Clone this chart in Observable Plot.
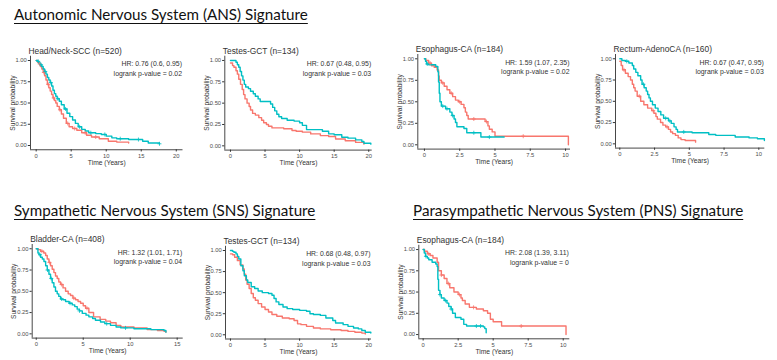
<!DOCTYPE html>
<html>
<head>
<meta charset="utf-8">
<script src="https://cdn.jsdelivr.net/npm/d3@7"></script>
<script src="https://cdn.jsdelivr.net/npm/@observablehq/plot@0.6"></script>
<style>
  html, body { margin: 0; padding: 0; background: #fff; }
  #root { position: relative; width: 777px; height: 360px; overflow: hidden; background: #fff; }
  .sec { position: absolute; font-family: Lato, "Open Sans", sans-serif; font-size: 15.2px; line-height: 1; color: #111;
         text-decoration: underline; text-decoration-thickness: 1px; text-underline-offset: 3px; white-space: nowrap; }
  .panel { position: absolute; }
</style>
</head>
<body>
<div id="root"></div>
<script>
// ---------------- Section titles ----------------
const sectionTitles = [
  "Autonomic Nervous System (ANS) Signature",
  "Sympathetic Nervous System (SNS) Signature",
  "Parasympathetic Nervous System (PNS) Signature"
];

// ---------------- Panel labels ----------------
const panelTitles = [
  "Head/Neck-SCC (n=520)", "Testes-GCT (n=134)", "Esophagus-CA (n=184)", "Rectum-AdenoCA (n=160)",
  "Bladder-CA (n=408)", "Testes-GCT (n=134)", "Esophagus-CA (n=184)"
];
const hrLabels = [
  "HR: 0.76 (0.6, 0.95)", "HR: 0.67 (0.48, 0.95)", "HR: 1.59 (1.07, 2.35)", "HR: 0.67 (0.47, 0.95)",
  "HR: 1.32 (1.01, 1.71)", "HR: 0.68 (0.48, 0.97)", "HR: 2.08 (1.39, 3.11)"
];
const pValues = ["0.02", "0.03", "0.02", "0.03", "0.04", "0.03", "0"];

const yTicks = [0, 0.25, 0.5, 0.75, 1];
const xTicks20 = [0, 5, 10, 15, 20];
const xTicks15 = [0, 5, 10, 15];
const xTicks10 = [0, 2.5, 5, 7.5, 10];

// ---------------- KM curves: [time (years), survival probability] ----------------
const hnRed = [[0,1],[0.2,0.98],[0.4,0.96],[0.6,0.93],[0.8,0.9],[1.0,0.86],[1.2,0.82],[1.4,0.77],[1.6,0.72],[1.8,0.68],[2.0,0.64],[2.2,0.6],[2.4,0.56],[2.6,0.53],[2.8,0.5],[3.0,0.46],[3.3,0.42],[3.6,0.37],[3.9,0.32],[4.3,0.26],[4.7,0.22],[5.2,0.2],[5.8,0.18],[6.5,0.15],[7.2,0.12],[7.9,0.1],[9.0,0.08],[10.3,0.05],[11.5,0.04],[13.2,0.03]];
const hnCyan = [[0,1],[0.2,0.99],[0.4,0.97],[0.6,0.95],[0.8,0.93],[1.0,0.9],[1.2,0.87],[1.4,0.84],[1.6,0.8],[1.8,0.77],[2.0,0.74],[2.2,0.7],[2.4,0.65],[2.6,0.61],[2.8,0.58],[3.0,0.55],[3.3,0.52],[3.6,0.48],[4.0,0.43],[4.4,0.38],[4.8,0.34],[5.2,0.3],[5.6,0.26],[6.0,0.22],[6.5,0.19],[7.0,0.17],[7.5,0.15],[8.5,0.14],[9.3,0.13],[10.0,0.11],[10.8,0.09],[11.5,0.08],[13.2,0.07],[15.2,0.05],[16.0,0.03],[17.6,0.02]];

const tgRed = [[0,0.97],[0.3,0.94],[0.5,0.92],[0.8,0.88],[1.0,0.84],[1.2,0.78],[1.45,0.72],[1.7,0.66],[1.9,0.6],[2.1,0.55],[2.4,0.5],[2.7,0.46],[2.9,0.42],[3.2,0.38],[3.6,0.36],[4.1,0.33],[4.5,0.3],[4.8,0.27],[5.2,0.25],[5.5,0.23],[6.0,0.21],[7.7,0.2],[8.9,0.18],[9.5,0.17],[10.4,0.16],[11.6,0.14],[13.0,0.12],[14.2,0.11],[15.2,0.08],[16.6,0.06],[18.1,0.04],[19.3,0.02]];
const tgCyan = [[0,1],[0.8,0.98],[1.0,0.95],[1.2,0.92],[1.4,0.87],[1.6,0.82],[1.8,0.77],[2.0,0.72],[2.2,0.69],[2.6,0.67],[2.9,0.64],[3.3,0.61],[3.6,0.58],[4.0,0.55],[4.3,0.52],[5.8,0.49],[6.1,0.45],[6.4,0.41],[6.7,0.37],[7.0,0.34],[7.4,0.32],[8.2,0.3],[9.2,0.29],[10.0,0.27],[10.4,0.24],[11.0,0.19],[13.3,0.17],[14.2,0.14],[15.0,0.13],[16.1,0.1],[17.0,0.09],[18.1,0.07],[19.0,0.05],[19.3,0.03],[20.3,0.02]];

const esRed = [[0,1],[0.1,0.98],[0.3,0.95],[0.5,0.92],[0.7,0.9],[0.9,0.87],[1.0,0.8],[1.05,0.75],[1.2,0.72],[1.4,0.68],[1.6,0.64],[1.8,0.6],[2.0,0.56],[2.2,0.52],[2.4,0.5],[2.6,0.47],[2.8,0.43],[2.9,0.38],[3.0,0.34],[3.1,0.3],[4.3,0.27],[4.5,0.22],[4.6,0.18],[4.8,0.15],[5.0,0.1],[10.2,0.0]];
const esCyan = [[0,1],[0.08,0.97],[0.15,0.94],[0.3,0.93],[0.8,0.91],[0.95,0.85],[1.0,0.73],[1.05,0.6],[1.1,0.5],[1.2,0.45],[1.5,0.42],[1.8,0.38],[1.95,0.34],[2.1,0.3],[2.2,0.26],[2.3,0.21],[2.8,0.19],[3.0,0.14],[4.0,0.09],[5.65,0.09]];

const reRed = [[0,0.97],[0.1,0.92],[0.2,0.87],[0.4,0.83],[0.6,0.79],[0.77,0.75],[0.9,0.7],[1.0,0.66],[1.1,0.62],[1.25,0.56],[1.5,0.5],[1.73,0.46],[2.0,0.42],[2.3,0.39],[2.45,0.36],[2.6,0.32],[2.7,0.29],[2.93,0.25],[3.1,0.22],[3.3,0.2],[3.5,0.17],[3.65,0.14],[3.8,0.12],[4.0,0.1],[4.2,0.07],[4.4,0.05],[4.7,0.04],[5.45,0.02]];
const reCyan = [[0,1],[0.15,0.98],[0.4,0.97],[0.65,0.95],[0.9,0.92],[1.0,0.88],[1.15,0.84],[1.3,0.8],[1.5,0.75],[1.6,0.7],[1.75,0.66],[1.9,0.62],[2.0,0.58],[2.1,0.54],[2.2,0.5],[2.35,0.46],[2.55,0.42],[2.75,0.38],[2.95,0.34],[3.15,0.3],[3.5,0.27],[3.7,0.24],[3.9,0.2],[4.05,0.17],[4.15,0.14],[5.2,0.13],[6.4,0.11],[6.9,0.1],[8.3,0.08],[9.3,0.07],[9.9,0.06],[10.4,0.04]];

const blRed = [[0,1],[0.2,0.99],[0.46,0.97],[0.8,0.95],[1.0,0.92],[1.17,0.88],[1.35,0.84],[1.52,0.8],[1.7,0.76],[1.88,0.72],[2.05,0.68],[2.23,0.65],[2.4,0.61],[2.59,0.58],[2.85,0.54],[3.12,0.5],[3.4,0.47],[3.65,0.45],[3.9,0.42],[4.18,0.4],[4.45,0.38],[4.72,0.36],[5.0,0.33],[5.25,0.3],[5.6,0.25],[6.1,0.2],[6.8,0.17],[7.4,0.15],[7.9,0.13],[8.5,0.1],[9.0,0.08],[10.4,0.07],[11.8,0.05],[12.9,0.04],[13.6,0.03],[13.8,0.02]];
const blCyan = [[0,1],[0.18,0.95],[0.3,0.93],[0.46,0.9],[0.65,0.88],[0.82,0.85],[1.0,0.8],[1.17,0.75],[1.35,0.7],[1.52,0.65],[1.7,0.6],[1.88,0.55],[2.05,0.5],[2.23,0.47],[2.4,0.44],[2.59,0.41],[2.85,0.4],[3.12,0.38],[3.5,0.36],[3.83,0.34],[4.1,0.32],[4.36,0.29],[4.6,0.27],[4.9,0.24],[5.3,0.22],[5.6,0.2],[6.0,0.18],[6.3,0.16],[6.84,0.14],[7.3,0.12],[7.9,0.1],[8.5,0.08],[9.0,0.07],[10.4,0.06],[12.2,0.05],[13.6,0.04],[13.8,0.02]];

const tg2Red = [[0,0.96],[0.3,0.95],[0.6,0.92],[1.0,0.88],[1.4,0.83],[1.8,0.78],[2.0,0.72],[2.2,0.65],[2.4,0.6],[2.7,0.55],[3.0,0.49],[3.3,0.44],[3.6,0.41],[4.0,0.37],[4.5,0.33],[5.0,0.3],[5.5,0.27],[6.0,0.24],[6.7,0.22],[7.5,0.2],[8.5,0.19],[9.2,0.17],[9.7,0.13],[10.2,0.12],[11.0,0.1],[12.0,0.08],[13.0,0.07],[14.5,0.06],[16.0,0.05],[17.0,0.04],[18.0,0.03],[19.0,0.02],[19.5,0.01]];
const tg2Cyan = [[0,1],[0.3,0.99],[0.5,0.98],[0.8,0.96],[1.0,0.93],[1.2,0.9],[1.5,0.82],[1.8,0.76],[2.0,0.7],[2.3,0.65],[2.5,0.62],[3.0,0.57],[3.5,0.55],[4.0,0.52],[4.6,0.5],[5.5,0.49],[6.0,0.47],[6.3,0.43],[6.6,0.39],[7.0,0.36],[7.6,0.33],[8.2,0.31],[9.0,0.3],[10.0,0.29],[11.0,0.28],[11.5,0.25],[12.0,0.24],[13.0,0.23],[13.8,0.2],[14.8,0.17],[15.2,0.14],[16.3,0.12],[17.0,0.1],[17.8,0.08],[18.5,0.07],[19.0,0.05],[19.5,0.03],[20.3,0.02]];

const es2Red = [[0,1],[0.1,0.98],[0.3,0.95],[0.5,0.93],[0.7,0.9],[1.0,0.85],[1.1,0.75],[1.3,0.7],[1.5,0.66],[1.7,0.6],[1.9,0.55],[2.2,0.5],[2.5,0.47],[2.7,0.43],[2.8,0.4],[3.0,0.36],[3.3,0.32],[3.8,0.3],[4.3,0.28],[4.6,0.25],[4.8,0.18],[5.0,0.15],[5.6,0.1],[10.2,0.0]];
const es2Cyan = [[0,1],[0.08,0.96],[0.17,0.92],[0.3,0.9],[0.4,0.88],[0.64,0.85],[0.9,0.83],[1.0,0.8],[1.05,0.65],[1.1,0.52],[1.2,0.47],[1.3,0.43],[1.5,0.4],[1.7,0.37],[1.83,0.33],[2.0,0.3],[2.1,0.25],[2.3,0.2],[2.7,0.18],[2.9,0.12],[3.1,0.1],[4.3,0.09],[4.4,0.07],[4.5,0.02]];

// censoring times (years)
const hnRedCens = [0.5, 1.1, 1.7, 2.5, 3.4, 4.5, 5.5, 7.0, 8.5];
const hnCyanCens = [0.3, 0.7, 1.3, 2.1, 3.1, 4.2, 6.2, 7.8, 9.8, 12.0, 14.6, 17.6];
const esRedCens = [0.4, 1.3, 1.9, 2.5, 3.5, 4.4, 7.0];
const esCyanCens = [0.2, 1.3, 1.6, 2.0, 3.5, 4.6];
const reRedCens = [0.3, 1.4, 2.4, 3.4];
const reCyanCens = [0.5, 1.7, 3.3, 3.6, 4.6];
const blRedCens = [0.6, 1.4, 2.7, 4.0, 5.4];
const blCyanCens = [0.4, 1.2, 1.6, 2.7, 3.6, 4.6, 7.5, 9.5];
const es2RedCens = [0.4, 1.3, 1.8, 2.6, 3.6, 7.0];
const es2CyanCens = [0.2, 1.2, 1.6, 2.0, 3.8, 4.1];

// ---------------- Layout (page px) ----------------
// box: [left, top, width, height] of each SVG ; frame: [x left, x right, y top, y bottom]
const panels = [
  {box:[0,40,192,130],   frame:[30,182.5,55.75,149.25],  xdom:[-0.81,20.96], ticks:xTicks20, red:hnRed,  cyan:hnCyan,  rc:hnRedCens, cc:hnCyanCens},
  {box:[192,40,190,130], frame:[224.3,371.7,55.7,149.6], xdom:[-0.82,20.5],  ticks:xTicks20, red:tgRed,  cyan:tgCyan,  rc:[], cc:[]},
  {box:[385,40,192,130], frame:[417.3,570,54,148.6],     xdom:[-0.47,10.35], ticks:xTicks10, red:esRed,  cyan:esCyan,  rc:esRedCens, cc:esCyanCens},
  {box:[577,40,200,130], frame:[615,764.3,54,147.6],     xdom:[-0.31,10.43], ticks:xTicks10, red:reRed,  cyan:reCyan,  rc:reRedCens, cc:reCyanCens},
  {box:[0,228,192,132],  frame:[31.7,182.7,244,337.6],   xdom:[-0.43,15.64], ticks:xTicks15, red:blRed,  cyan:blCyan,  rc:blRedCens, cc:blCyanCens},
  {box:[192,228,190,132],frame:[225,371,245.8,338.5],    xdom:[-0.72,20.4],  ticks:xTicks20, red:tg2Red, cyan:tg2Cyan, rc:[], cc:[]},
  {box:[385,228,192,132],frame:[418.3,569.3,244.8,338.3],xdom:[-0.31,10.47], ticks:xTicks10, red:es2Red, cyan:es2Cyan, rc:es2RedCens, cc:es2CyanCens}
];

const RED = "#F8766D", CYAN = "#00BFC4";
const root = document.getElementById("root");

// section titles
const secPos = [[14, 7.3], [14, 203.3], [413, 203.3]];
sectionTitles.forEach((t, i) => {
  const d = document.createElement("div");
  d.className = "sec";
  d.textContent = t;
  d.style.left = secPos[i][0] + "px";
  d.style.top = secPos[i][1] + "px";
  root.appendChild(d);
});

const toRows = (arr) => arr.map(([t, s]) => ({t, s}));
const survAt = (arr, time) => { let v = arr[0][1]; for (const [t, s] of arr) { if (t <= time) v = s; } return v; };
const cens = (arr, times) => times.map(t => ({t, s: survAt(arr, t)}));

panels.forEach((p, i) => {
  const [bl, bt, bw, bh] = p.box;
  const [fl, fr, ft, fb] = p.frame;
  const ydom = [-0.05, 1.05];
  const chart = Plot.plot({
    width: bw, height: bh,
    marginLeft: fl - bl, marginRight: bl + bw - fr,
    marginTop: ft - bt, marginBottom: bt + bh - fb,
    style: {fontFamily: "'Liberation Sans', Arial, sans-serif", fontSize: "5.8px", color: "#4d4d4d", background: "transparent", overflow: "visible"},
    x: {domain: p.xdom},
    y: {domain: ydom},
    marks: [
      Plot.ruleX([p.xdom[0]], {stroke: "#333", strokeWidth: 0.9}),
      Plot.ruleY([ydom[0]], {stroke: "#333", strokeWidth: 0.9}),
      Plot.axisX({ticks: p.ticks, tickSize: 2.2, tickPadding: 1.5, label: null, tickFormat: d => String(d), stroke: "#333"}),
      Plot.axisY({ticks: yTicks, tickSize: 2.2, tickPadding: 1.5, label: null, tickFormat: d3.format(".2f"), stroke: "#333"}),
      Plot.line(toRows(p.red), {x: "t", y: "s", curve: "step-after", stroke: RED, strokeWidth: 1.4}),
      Plot.line(toRows(p.cyan), {x: "t", y: "s", curve: "step-after", stroke: CYAN, strokeWidth: 1.4}),
      Plot.dot(cens(p.red, p.rc), {x: "t", y: "s", symbol: "plus", r: 1.4, stroke: RED, strokeWidth: 0.8}),
      Plot.dot(cens(p.cyan, p.cc), {x: "t", y: "s", symbol: "plus", r: 1.4, stroke: CYAN, strokeWidth: 0.8}),
      Plot.text([panelTitles[i]], {frameAnchor: "top-left", dx: -2, dy: -2.5, lineAnchor: "bottom", textAnchor: "start", fontSize: 8.4, fill: "#333"}),
      Plot.text([hrLabels[i] + "\nlogrank p-value = " + pValues[i]], {frameAnchor: "top-right", dx: -1, dy: 3.5, lineAnchor: "top", textAnchor: "end", lineHeight: 1.35, fontSize: 6.9, fill: "#333"}),
      Plot.text(["Time (Years)"], {frameAnchor: "bottom", dy: 13, lineAnchor: "middle", textAnchor: "middle", fontSize: 6.7, fill: "#333"}),
      Plot.text(["Survival probability"], {frameAnchor: "left", dx: -18, rotate: -90, lineAnchor: "middle", textAnchor: "middle", fontSize: 6.6, fill: "#333"})
    ]
  });
  chart.classList.add("panel");
  chart.style.left = bl + "px";
  chart.style.top = bt + "px";
  root.appendChild(chart);
});
</script>
</body>
</html>
